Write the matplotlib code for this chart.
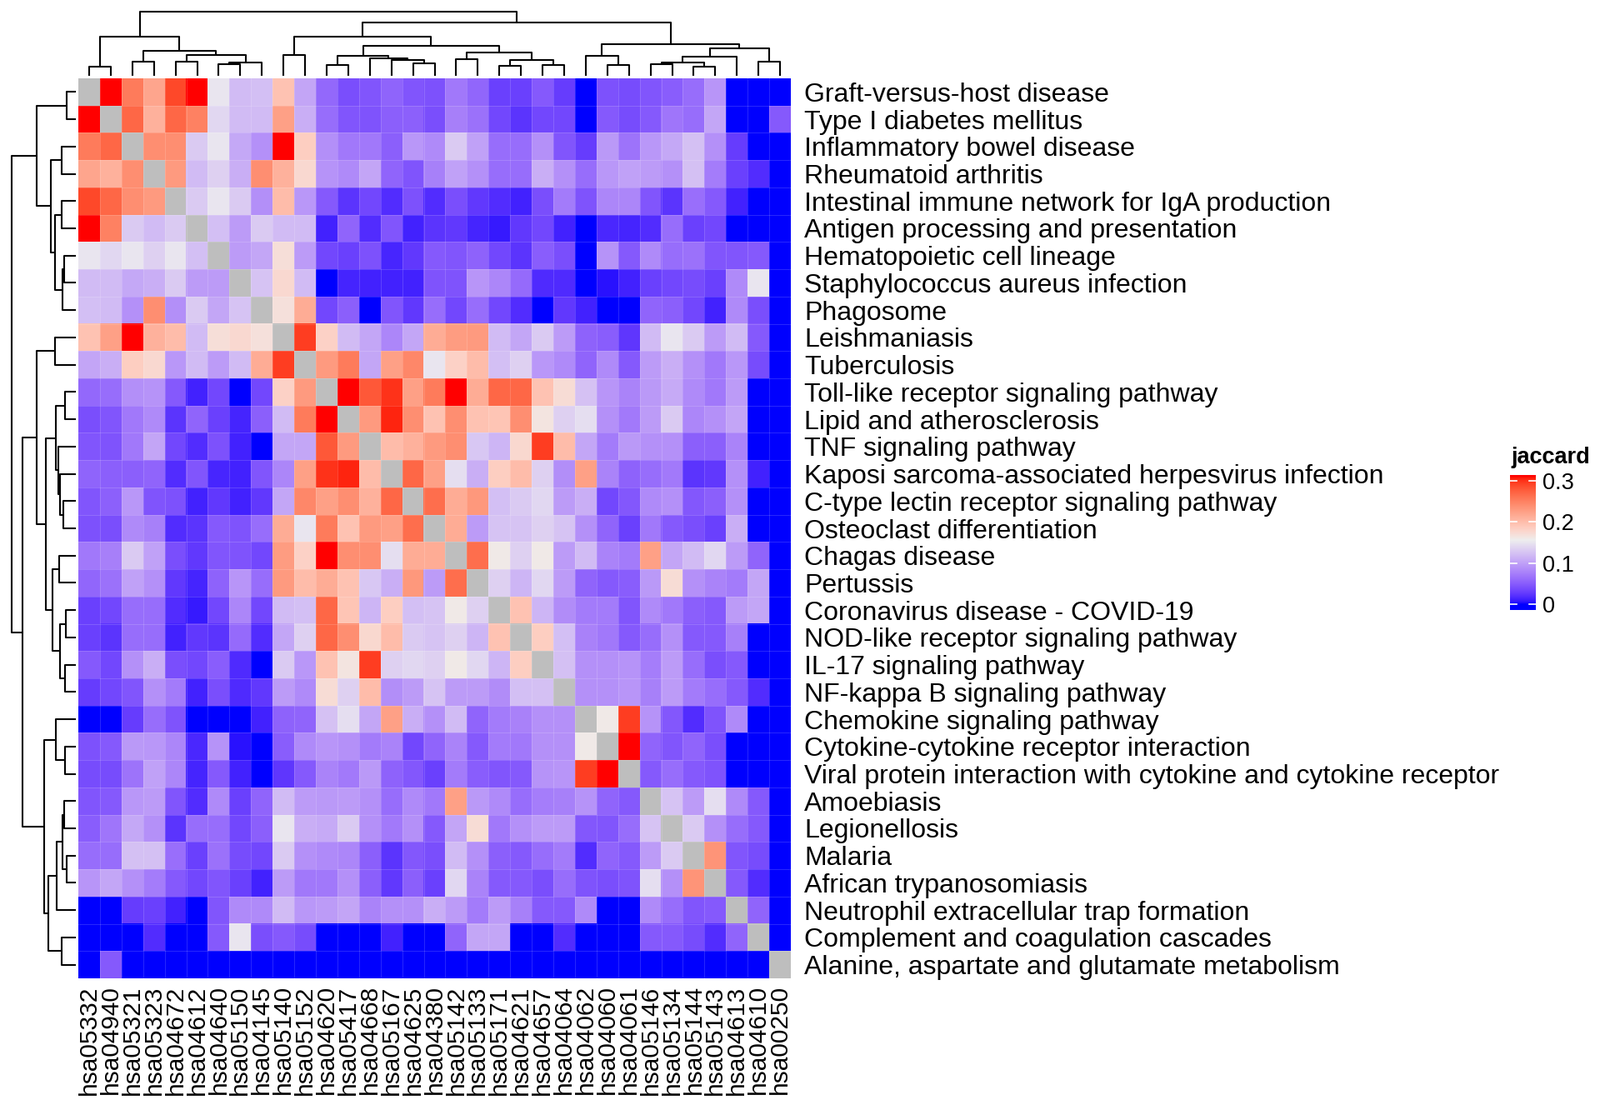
import numpy as np
import matplotlib
matplotlib.use("Agg")
import matplotlib.pyplot as plt
from matplotlib.colors import ListedColormap

# ---------------- data ----------------
pathway_ids = ['hsa05332', 'hsa04940', 'hsa05321', 'hsa05323', 'hsa04672', 'hsa04612',
               'hsa04640', 'hsa05150', 'hsa04145', 'hsa05140', 'hsa05152', 'hsa04620',
               'hsa05417', 'hsa04668', 'hsa05167', 'hsa04625', 'hsa04380', 'hsa05142',
               'hsa05133', 'hsa05171', 'hsa04621', 'hsa04657', 'hsa04064', 'hsa04062',
               'hsa04060', 'hsa04061', 'hsa05146', 'hsa05134', 'hsa05144', 'hsa05143',
               'hsa04613', 'hsa04610', 'hsa00250']

pathway_names = ['Graft-versus-host disease', 'Type I diabetes mellitus',
                 'Inflammatory bowel disease', 'Rheumatoid arthritis',
                 'Intestinal immune network for IgA production',
                 'Antigen processing and presentation', 'Hematopoietic cell lineage',
                 'Staphylococcus aureus infection', 'Phagosome', 'Leishmaniasis',
                 'Tuberculosis', 'Toll-like receptor signaling pathway',
                 'Lipid and atherosclerosis', 'TNF signaling pathway',
                 'Kaposi sarcoma-associated herpesvirus infection',
                 'C-type lectin receptor signaling pathway', 'Osteoclast differentiation',
                 'Chagas disease', 'Pertussis', 'Coronavirus disease - COVID-19',
                 'NOD-like receptor signaling pathway', 'IL-17 signaling pathway',
                 'NF-kappa B signaling pathway', 'Chemokine signaling pathway',
                 'Cytokine-cytokine receptor interaction',
                 'Viral protein interaction with cytokine and cytokine receptor',
                 'Amoebiasis', 'Legionellosis', 'Malaria', 'African trypanosomiasis',
                 'Neutrophil extracellular trap formation',
                 'Complement and coagulation cascades',
                 'Alanine, aspartate and glutamate metabolism']

# Jaccard index, upper triangle: row i holds the values for columns i+1 .. 32
jaccard_upper = [
    [0.33, 0.255, 0.22, 0.29, 0.33, 0.15, 0.12, 0.122, 0.195, 0.103, 0.058, 0.04, 0.045, 0.055, 0.045, 0.042,
     0.07, 0.057, 0.03, 0.03, 0.048, 0.028, 0.0, 0.042, 0.038, 0.045, 0.05, 0.062, 0.092, 0.0, 0.0, 0.0],
    [0.27, 0.21, 0.27, 0.25, 0.14, 0.12, 0.12, 0.225, 0.11, 0.062, 0.045, 0.043, 0.052, 0.053, 0.04, 0.075,
     0.065, 0.035, 0.022, 0.035, 0.035, 0.0, 0.047, 0.038, 0.047, 0.068, 0.062, 0.104, 0.0, 0.0, 0.047],
    [0.24, 0.24, 0.13, 0.15, 0.105, 0.088, 0.33, 0.185, 0.087, 0.07, 0.07, 0.052, 0.093, 0.083, 0.13, 0.1,
     0.062, 0.062, 0.088, 0.045, 0.028, 0.094, 0.066, 0.093, 0.105, 0.123, 0.088, 0.028, 0.0, 0.0],
    [0.23, 0.12, 0.135, 0.11, 0.24, 0.21, 0.175, 0.09, 0.083, 0.103, 0.056, 0.044, 0.076, 0.1, 0.088, 0.062,
     0.062, 0.11, 0.088, 0.062, 0.093, 0.1, 0.096, 0.088, 0.123, 0.073, 0.03, 0.018, 0.0],
    [0.13, 0.15, 0.13, 0.087, 0.2, 0.093, 0.047, 0.022, 0.035, 0.018, 0.042, 0.018, 0.04, 0.025, 0.018, 0.012,
     0.04, 0.072, 0.043, 0.08, 0.08, 0.045, 0.022, 0.063, 0.048, 0.012, 0.0, 0.0],
    [0.122, 0.096, 0.13, 0.12, 0.12, 0.012, 0.056, 0.018, 0.045, 0.012, 0.022, 0.025, 0.013, 0.008, 0.025,
     0.035, 0.012, 0.0, 0.015, 0.013, 0.018, 0.062, 0.03, 0.035, 0.0, 0.0, 0.0],
    [0.096, 0.104, 0.17, 0.096, 0.035, 0.03, 0.042, 0.014, 0.025, 0.048, 0.045, 0.054, 0.035, 0.022, 0.05,
     0.04, 0.0, 0.09, 0.048, 0.083, 0.062, 0.065, 0.045, 0.045, 0.048, 0.0],
    [0.125, 0.175, 0.12, 0.0, 0.013, 0.012, 0.012, 0.012, 0.043, 0.043, 0.092, 0.08, 0.06, 0.017, 0.017,
     0.0, 0.005, 0.012, 0.03, 0.035, 0.038, 0.03, 0.083, 0.15, 0.0],
    [0.168, 0.215, 0.035, 0.052, 0.0, 0.045, 0.025, 0.062, 0.035, 0.062, 0.035, 0.018, 0.0, 0.025, 0.012,
     0.0, 0.0, 0.056, 0.052, 0.035, 0.012, 0.083, 0.04, 0.0],
    [0.295, 0.182, 0.12, 0.104, 0.08, 0.104, 0.215, 0.228, 0.23, 0.12, 0.104, 0.13, 0.096, 0.054, 0.05,
     0.024, 0.12, 0.15, 0.13, 0.096, 0.12, 0.047, 0.0],
    [0.23, 0.255, 0.104, 0.225, 0.245, 0.15, 0.182, 0.2, 0.122, 0.135, 0.093, 0.083, 0.056, 0.083, 0.047,
     0.096, 0.11, 0.088, 0.07, 0.093, 0.038, 0.0],
    [0.33, 0.28, 0.3, 0.225, 0.255, 0.33, 0.215, 0.27, 0.27, 0.195, 0.172, 0.124, 0.092, 0.078, 0.094,
     0.107, 0.083, 0.07, 0.096, 0.0, 0.0],
    [0.23, 0.305, 0.24, 0.195, 0.24, 0.195, 0.193, 0.24, 0.165, 0.135, 0.145, 0.088, 0.071, 0.096, 0.13,
     0.08, 0.088, 0.103, 0.0, 0.0],
    [0.2, 0.21, 0.23, 0.24, 0.128, 0.115, 0.176, 0.295, 0.2, 0.104, 0.072, 0.094, 0.088, 0.088, 0.052,
     0.052, 0.078, 0.0, 0.0],
    [0.27, 0.225, 0.145, 0.11, 0.185, 0.2, 0.135, 0.086, 0.225, 0.078, 0.054, 0.062, 0.071, 0.022, 0.025,
     0.088, 0.012, 0.0],
    [0.265, 0.215, 0.232, 0.122, 0.13, 0.14, 0.096, 0.11, 0.035, 0.046, 0.083, 0.088, 0.046, 0.052, 0.088,
     0.0, 0.0],
    [0.215, 0.096, 0.125, 0.125, 0.135, 0.125, 0.088, 0.056, 0.03, 0.07, 0.048, 0.04, 0.03, 0.11, 0.0, 0.0],
    [0.265, 0.16, 0.135, 0.16, 0.096, 0.12, 0.078, 0.072, 0.225, 0.103, 0.12, 0.14, 0.096, 0.056, 0.0],
    [0.135, 0.115, 0.14, 0.096, 0.056, 0.048, 0.05, 0.094, 0.172, 0.088, 0.078, 0.072, 0.104, 0.0],
    [0.195, 0.115, 0.085, 0.072, 0.072, 0.045, 0.083, 0.07, 0.052, 0.048, 0.096, 0.104, 0.0],
    [0.185, 0.122, 0.077, 0.07, 0.048, 0.062, 0.088, 0.048, 0.048, 0.076, 0.0, 0.0],
    [0.123, 0.088, 0.088, 0.09, 0.074, 0.096, 0.062, 0.04, 0.048, 0.0, 0.0],
    [0.088, 0.088, 0.092, 0.076, 0.096, 0.072, 0.062, 0.047, 0.018, 0.0],
    [0.16, 0.295, 0.09, 0.046, 0.018, 0.043, 0.083, 0.0, 0.0],
    [0.33, 0.056, 0.045, 0.056, 0.04, 0.0, 0.0, 0.0],
    [0.047, 0.062, 0.048, 0.043, 0.0, 0.0, 0.0],
    [0.125, 0.096, 0.145, 0.083, 0.047, 0.0],
    [0.13, 0.088, 0.062, 0.048, 0.0],
    [0.235, 0.045, 0.038, 0.0],
    [0.048, 0.018, 0.0],
    [0.056, 0.0],
    [0.0],
]

# hierarchical clustering tree (same for rows and columns): (left, right, merge height)
cluster_tree = (
    ((0, 1, 32), ((2, 3, 52), ((4, 5, 52), ((6, 7, 43), 8, 48), 76), 90), 139),
    (((9, 10, 75),
      (((11, 12, 39), (13, (14, (15, 16, 46), 57), 62), 72),
       ((17, 18, 60), ((19, 20, 36), (21, 22, 40), 57), 84), 108), 140),
     ((23, (24, 25, 38), 71),
      ((((26, 27, 41), (28, 29, 33), 49), 30, 68), (31, 32, 52), 99), 114), 192),
    230)

color_breaks = [0.0, 0.156, 0.312]
color_stops = ['#0000FF', '#EEEEEE', '#FF0000']
legend_ticks = [0, 0.1, 0.2, 0.3]
legend_range = [-0.014, 0.314]
legend_title = 'jaccard'

# ---------------- colour ramp in LAB space ----------------
_M = np.array([[0.4124564, 0.3575761, 0.1804375],
               [0.2126729, 0.7151522, 0.0721750],
               [0.0193339, 0.1191920, 0.9503041]])
_W = np.array([0.95047, 1.0, 1.08883])


def hex2rgb(h):
    h = h.lstrip('#')
    return np.array([int(h[i:i + 2], 16) / 255 for i in (0, 2, 4)])


def rgb2lab(rgb):
    lin = np.where(rgb <= 0.04045, rgb / 12.92, ((rgb + 0.055) / 1.055) ** 2.4)
    xyz = _M @ lin / _W
    f = np.where(xyz > 0.008856, np.cbrt(xyz), 7.787 * xyz + 16 / 116)
    return np.array([116 * f[1] - 16, 500 * (f[0] - f[1]), 200 * (f[1] - f[2])])


def lab2rgb(lab):
    L, a, b = lab
    fy = (L + 16) / 116
    fx = fy + a / 500
    fz = fy - b / 200
    f = np.array([fx, fy, fz])
    xyz = np.where(f ** 3 > 0.008856, f ** 3, (f - 16 / 116) / 7.787) * _W
    lin = np.linalg.solve(_M, xyz)
    lin = np.clip(lin, 0, 1)
    rgb = np.where(lin <= 0.0031308, 12.92 * lin, 1.055 * lin ** (1 / 2.4) - 0.055)
    return np.clip(rgb, 0, 1)


labs = [rgb2lab(hex2rgb(c)) for c in color_stops]
vals = np.linspace(color_breaks[0], color_breaks[-1], 512)
cols = []
for v in vals:
    if v <= color_breaks[1]:
        t = (v - color_breaks[0]) / (color_breaks[1] - color_breaks[0])
        lab = labs[0] * (1 - t) + labs[1] * t
    else:
        t = (v - color_breaks[1]) / (color_breaks[2] - color_breaks[1])
        lab = labs[1] * (1 - t) + labs[2] * t
    cols.append(lab2rgb(lab))
cmap = ListedColormap(cols)
cmap.set_bad('#BEBEBE')
cmap.set_over('#FF0000')
cmap.set_under('#0000FF')

# ---------------- matrix ----------------
n = len(pathway_ids)
mat = np.full((n, n), np.nan)
for i, row in enumerate(jaccard_upper):
    mat[i, i + 1:] = row
    mat[i + 1:, i] = row
mat = np.ma.masked_invalid(mat)

# ---------------- figure ----------------
plt.rcParams['font.family'] = ['Liberation Sans', 'DejaVu Sans']
W, H = 1920, 1344
fig = plt.figure(figsize=(W / 100, H / 100), dpi=100)


def px_axes(x0, y0, x1, y1):
    return fig.add_axes([x0 / W, 1 - y1 / H, (x1 - x0) / W, (y1 - y0) / H])


hm_x0, hm_y0, hm_x1, hm_y1 = 94, 94, 949, 1174
ax = px_axes(hm_x0, hm_y0, hm_x1, hm_y1)
ax.imshow(mat, cmap=cmap, vmin=color_breaks[0], vmax=color_breaks[-1],
          interpolation='nearest', aspect='auto', extent=(0, n, n, 0))
for k in range(1, n):
    ax.axvline(k, color='white', alpha=0.18, lw=0.6)
    ax.axhline(k, color='white', alpha=0.18, lw=0.6)
ax.set_xlim(0, n)
ax.set_ylim(n, 0)
for s in ax.spines.values():
    s.set_visible(False)
ax.set_xticks(np.arange(n) + 0.5)
ax.set_xticklabels(pathway_ids, rotation=90, fontsize=21.5)
ax.set_yticks(np.arange(n) + 0.5)
ax.set_yticklabels(pathway_names, fontsize=23)
ax.yaxis.tick_right()
ax.tick_params(axis='x', length=0, pad=6)
ax.tick_params(axis='y', length=0, pad=11.5)


def tree_segments(node, segs):
    if isinstance(node, int):
        return node + 0.5, 0.0
    left, right, h = node
    pl, hl = tree_segments(left, segs)
    pr, hr = tree_segments(right, segs)
    segs.append(([pl, pl, pr, pr], [hl, h, h, hr]))
    return (pl + pr) / 2, h


segs = []
tree_segments(cluster_tree, segs)
root_h = cluster_tree[2]

# column dendrogram
axc = px_axes(hm_x0, 14, hm_x1, 91)
for xs, hs in segs:
    axc.plot(xs, hs, color='black', lw=1.5, solid_capstyle='butt', clip_on=False)
axc.set_xlim(0, n)
axc.set_ylim(0, root_h)
axc.axis('off')

# row dendrogram
axr = px_axes(14, hm_y0, 91, hm_y1)
for xs, hs in segs:
    axr.plot(hs, xs, color='black', lw=1.5, solid_capstyle='butt', clip_on=False)
axr.set_ylim(n, 0)
axr.set_xlim(root_h, 0)
axr.axis('off')

# legend
axl = px_axes(1812, 570, 1843, 732)
grad = np.linspace(legend_range[1], legend_range[0], 300).reshape(-1, 1)
axl.imshow(grad, cmap=cmap, vmin=color_breaks[0], vmax=color_breaks[-1], aspect='auto',
           extent=(0, 1, legend_range[0], legend_range[1]), interpolation='bilinear')
axl.set_xlim(0, 1)
axl.set_ylim(legend_range[0], legend_range[1])
for t in legend_ticks:
    axl.plot([0, 0.25], [t, t], color='white', lw=1.2)
    axl.plot([0.75, 1], [t, t], color='white', lw=1.2)
axl.set_xticks([])
axl.yaxis.tick_right()
axl.set_yticks(legend_ticks)
axl.set_yticklabels([f'{t:g}' for t in legend_ticks], fontsize=19.5)
axl.tick_params(axis='y', length=0, pad=6)
for s in axl.spines.values():
    s.set_visible(False)
fig.text(1813 / W, 1 - 556 / H, legend_title, fontsize=19.5, fontweight='bold',
         ha='left', va='baseline')

fig.savefig('out.png', dpi=100)
